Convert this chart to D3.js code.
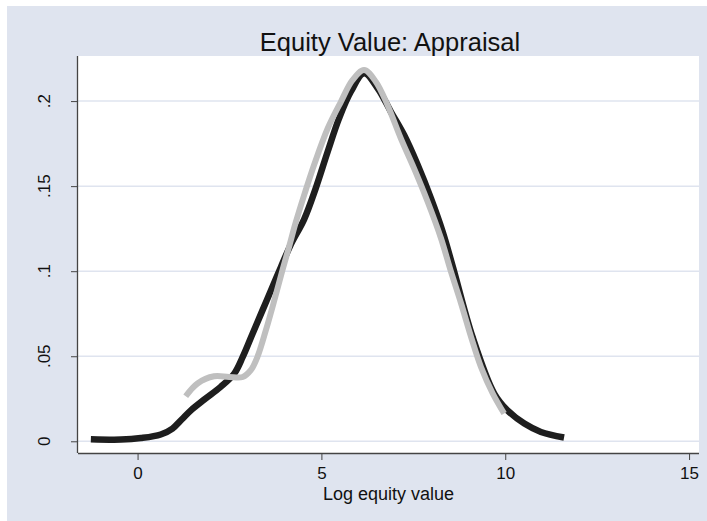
<!DOCTYPE html>
<html>
<head>
<meta charset="utf-8">
<script src="https://cdn.jsdelivr.net/npm/d3@7"></script>
<style>
  html, body { margin: 0; padding: 0; background: #fff; }
  svg text { font-family: "Liberation Sans", Arial, sans-serif; fill: #111; }
</style>
</head>
<body>
<svg width="707" height="521"></svg>
<script>
// kernel density curves (x = log equity value, y = density)
const blackX = [-1.27, -0.45, 0.09, 0.63, 0.95, 1.20, 1.45, 1.81, 2.26, 2.63, 2.86, 3.13, 3.40, 3.63, 3.90, 4.17, 4.53, 4.85, 5.17, 5.48, 5.80, 6.16, 6.53, 6.89, 7.25, 7.62, 7.98, 8.30, 8.57, 9.11, 9.70, 10.06, 10.52, 10.97, 11.60];
const blackY = [0.0012, 0.0010, 0.0019, 0.0040, 0.0075, 0.0128, 0.0182, 0.0245, 0.0320, 0.0398, 0.0496, 0.0634, 0.0771, 0.0888, 0.1025, 0.1158, 0.1305, 0.1490, 0.1702, 0.1898, 0.2055, 0.2163, 0.2075, 0.1937, 0.1800, 0.1624, 0.1428, 0.1231, 0.1030, 0.0614, 0.0281, 0.0182, 0.0104, 0.0055, 0.0022];
const grayX = [1.31, 1.63, 2.08, 2.49, 2.86, 3.08, 3.26, 3.49, 3.72, 3.94, 4.12, 4.30, 4.55, 4.80, 5.17, 5.53, 5.85, 6.16, 6.48, 6.80, 7.16, 7.52, 7.89, 8.25, 8.52, 8.80, 9.07, 9.34, 9.66, 9.97];
const grayY = [0.0265, 0.0340, 0.0382, 0.0378, 0.0378, 0.0418, 0.0496, 0.0653, 0.0829, 0.1006, 0.1143, 0.1285, 0.1460, 0.1624, 0.1839, 0.1996, 0.2124, 0.2182, 0.2114, 0.1976, 0.1781, 0.1604, 0.1408, 0.1195, 0.1000, 0.0810, 0.0614, 0.0437, 0.0281, 0.0163];
const xTicks = [0, 5, 10, 15];
const yTicks = [0, 0.05, 0.1, 0.15, 0.2];
const yTickLabels = ['0', '.05', '.1', '.15', '.2'];
const title = 'Equity Value: Appraisal';
const xLabel = 'Log equity value';

const bg = '#dfe4ef';
const margin = { left: 78, right: 8, top: 56, bottom: 68 };

const svg = d3.select('svg');
const width = +svg.attr('width');
const height = +svg.attr('height');
const innerWidth = width - margin.left - margin.right;
const innerHeight = height - margin.top - margin.bottom;

svg.append('rect')
    .attr('x', 7).attr('y', 6)
    .attr('width', width - 7).attr('height', height - 6)
    .attr('fill', bg);

const g = svg.append('g')
    .attr('transform', `translate(${margin.left},${margin.top})`);

g.append('rect')
    .attr('width', innerWidth)
    .attr('height', innerHeight)
    .attr('fill', '#fff');

const xScale = d3.scaleLinear()
    .domain([-1.62, 15.27])
    .range([0, innerWidth]);
const yScale = d3.scaleLinear()
    .domain([-0.00688, 0.2265])
    .range([innerHeight, 0]);

// gridlines
g.append('g')
    .selectAll('line')
    .data(yTicks)
    .join('line')
    .attr('x1', 0).attr('x2', innerWidth)
    .attr('y1', d => yScale(d)).attr('y2', d => yScale(d))
    .attr('stroke', bg)
    .attr('stroke-width', 1.5);

const line = d3.line()
    .x(d => xScale(d[0]))
    .y(d => yScale(d[1]))
    .curve(d3.curveCatmullRom.alpha(0.5));

g.append('path')
    .attr('fill', 'none')
    .attr('stroke', '#1e1e1e')
    .attr('stroke-width', 6.5)
    .attr('d', line(blackX.map((x, i) => [x, blackY[i]])));

g.append('path')
    .attr('fill', 'none')
    .attr('stroke', '#bfbfbf')
    .attr('stroke-width', 6)
    .attr('d', line(grayX.map((x, i) => [x, grayY[i]])));

// axes
const xAxis = d3.axisBottom(xScale)
    .tickValues(xTicks)
    .tickSize(7)
    .tickPadding(7)
    .tickFormat(d3.format('d'));
const xAxisG = g.append('g')
    .attr('transform', `translate(0,${innerHeight})`)
    .call(xAxis);
xAxisG.attr('font-size', null).attr('font-family', null);
xAxisG.select('.domain').attr('d', `M0,0.5H${innerWidth}`).attr('stroke', '#444').attr('stroke-width', 1.3);
xAxisG.selectAll('.tick line').attr('stroke', '#444');
xAxisG.selectAll('.tick text').attr('font-size', 17).attr('fill', '#111');

const yAxis = d3.axisLeft(yScale)
    .tickValues(yTicks)
    .tickSize(7)
    .tickFormat(() => '');
const yAxisG = g.append('g').call(yAxis);
yAxisG.select('.domain').attr('d', `M-0.5,0V${innerHeight}`).attr('stroke', '#444').attr('stroke-width', 1.3);
yAxisG.selectAll('.tick line').attr('stroke', '#444');
yAxisG.selectAll('.tick text').remove();

// rotated y tick labels
g.append('g')
    .selectAll('text')
    .data(yTicks)
    .join('text')
    .attr('transform', d => `translate(-28,${yScale(d)}) rotate(-90)`)
    .attr('text-anchor', 'middle')
    .attr('font-size', 17)
    .text((d, i) => yTickLabels[i]);

svg.append('text')
    .attr('x', margin.left + innerWidth / 2)
    .attr('y', 500)
    .attr('text-anchor', 'middle')
    .attr('font-size', 18)
    .text(xLabel);

svg.append('text')
    .attr('x', 390)
    .attr('y', 51)
    .attr('text-anchor', 'middle')
    .attr('font-size', 25.5)
    .text(title);
</script>
</body>
</html>
